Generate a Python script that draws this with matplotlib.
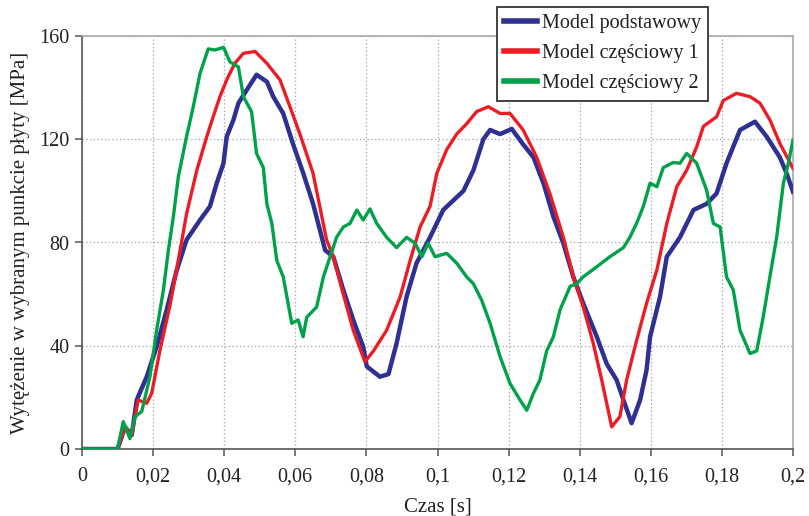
import matplotlib
matplotlib.use("Agg")
import matplotlib.pyplot as plt
from matplotlib.ticker import FuncFormatter

plt.rcParams['font.family'] = ['Liberation Serif', 'DejaVu Serif']

# Model podstawowy (blue)
t_blue = [0, 0.010, 0.0121, 0.014, 0.0154, 0.0182, 0.021, 0.0238, 0.0266, 0.0294, 0.0332,
          0.036, 0.0379, 0.0398, 0.0407, 0.0426, 0.044, 0.0463, 0.0491, 0.052, 0.0538,
          0.0566, 0.0594, 0.0622, 0.065, 0.0684, 0.0707, 0.0735, 0.0763, 0.0791, 0.0801,
          0.0838, 0.0862, 0.0885, 0.0913, 0.0941, 0.0979, 0.1016, 0.1073, 0.1101, 0.1129,
          0.1148, 0.1176, 0.1209, 0.1241, 0.127, 0.1298, 0.1326, 0.1354, 0.1382, 0.141,
          0.1448, 0.1476, 0.1504, 0.1523, 0.1546, 0.157, 0.1588, 0.1598, 0.1626, 0.1645,
          0.1682, 0.172, 0.1757, 0.1785, 0.1813, 0.1851, 0.1893, 0.1926, 0.1963, 0.1982, 0.2]
v_blue = [0, 0, 8.5, 5.4, 19, 28, 39.6, 53.8, 69, 81, 88.7,
          94, 103, 110.7, 121, 127.5, 134, 139, 145, 142.3, 136.5,
          130, 118, 107, 95, 77, 74.5, 61.6, 50, 39.6, 32,
          28, 29, 41, 59, 72, 82, 92.6, 100, 108, 120,
          123.6, 122, 124, 118, 113, 103, 90, 79.7, 66.7, 56.4,
          43.5, 33, 26.7, 19, 10, 19, 30.6, 43.5, 59, 74.5,
          82, 92.6, 95, 99, 110.7, 123.6, 126.8, 121, 113, 106.8, 99.7]

# Model częściowy 1 (red)
t_red = [0, 0.010, 0.0121, 0.014, 0.0158, 0.0182, 0.0196, 0.0219, 0.0248, 0.0276, 0.0294,
         0.0323, 0.0351, 0.0369, 0.0388, 0.0407, 0.043, 0.0454, 0.0487, 0.052, 0.0557,
         0.0585, 0.0613, 0.065, 0.0688, 0.0707, 0.0735, 0.0763, 0.0796, 0.082, 0.0857,
         0.0895, 0.0923, 0.0951, 0.0979, 0.0998, 0.1026, 0.1054, 0.1082, 0.111, 0.1143,
         0.1176, 0.1204, 0.1241, 0.1279, 0.1316, 0.1354, 0.1382, 0.141, 0.1438, 0.1462,
         0.149, 0.1513, 0.1532, 0.156, 0.1588, 0.1617, 0.1645, 0.1673, 0.1701, 0.1729,
         0.1748, 0.1785, 0.1804, 0.1841, 0.1879, 0.1907, 0.1935, 0.1963, 0.2]
v_red = [0, 0, 8.5, 5.4, 19, 17.7, 21.6, 38, 56, 77, 91,
         108, 121, 128.7, 136.5, 143, 149.4, 153.3, 154, 149.4, 143,
         132.6, 122, 106.8, 81, 74.5, 60, 46, 33.8, 38, 46,
         59, 73, 86, 94, 106.8, 116, 122, 126, 130.7, 132.6,
         130, 130, 123.6, 113, 99, 82, 66.7, 55, 41, 26.7,
         8.6, 12.5, 26.7, 42, 56.4, 69.3, 87.4, 101.6, 108, 117,
         125, 128.7, 135, 137.8, 136.5, 134, 127.5, 118.4, 108.7]

# Model częściowy 2 (green)
t_green = [0, 0.010, 0.0116, 0.0135, 0.0149, 0.0168, 0.0191, 0.021, 0.0229, 0.0243, 0.0257,
           0.0271, 0.0294, 0.0313, 0.0332, 0.0355, 0.0374, 0.0398, 0.0416, 0.044, 0.0454,
           0.0477, 0.0491, 0.051, 0.052, 0.0534, 0.0548, 0.0566, 0.059, 0.0608, 0.0622,
           0.0632, 0.066, 0.0679, 0.0698, 0.0716, 0.0735, 0.0754, 0.0773, 0.0791, 0.081,
           0.0829, 0.0857, 0.0885, 0.0913, 0.0937, 0.0956, 0.0974, 0.0993, 0.1026, 0.1054,
           0.1082, 0.1101, 0.1124, 0.1148, 0.1176, 0.1204, 0.1232, 0.1251, 0.127, 0.1288,
           0.1307, 0.1326, 0.1345, 0.1373, 0.1391, 0.141, 0.1448, 0.1485, 0.1523, 0.1541,
           0.156, 0.1579, 0.1598, 0.1617, 0.1635, 0.1663, 0.1682, 0.1701, 0.1729, 0.1757,
           0.1776, 0.1795, 0.1813, 0.1832, 0.1851, 0.1879, 0.1898, 0.1916, 0.1935, 0.1954,
           0.1973, 0.1987, 0.2]
v_green = [0, 0, 10.6, 4, 12.5, 14.5, 28, 46, 61.6, 77, 90,
           105.5, 121, 132.6, 145.5, 155, 154.6, 155.6, 150, 148, 136.5,
           130.7, 114.5, 109, 95, 87.4, 73, 66.7, 48.7, 50, 43.5,
           51, 55, 66.7, 74.5, 82, 86, 87.4, 92.6, 88.7, 93,
           87.4, 82, 78, 82, 79.7, 74.5, 79.7, 74.5, 75.8, 72,
           66.7, 64, 57.7, 48.7, 35.8, 25.4, 19, 15, 21.6, 26.7,
           38, 43.5, 54, 63, 64, 66.7, 70.6, 74.5, 78, 82,
           87.4, 94, 103, 101.6, 109, 111, 110.7, 114.5, 110.7, 100.3,
           87.4, 86, 66.7, 61.6, 46, 37, 38, 51, 66.7, 82,
           103, 110.7, 119.7]

labels = ["Model podstawowy", "Model częściowy 1", "Model częściowy 2"]
x_ticks = [0, 0.02, 0.04, 0.06, 0.08, 0.1, 0.12, 0.14, 0.16, 0.18, 0.2]
y_ticks = [0, 40, 80, 120, 160]

fig = plt.figure(figsize=(8.09, 5.16), dpi=100)
ax = fig.add_axes([82/809, 67/516, (793-82)/809, (449-36)/516])

l1, = ax.plot(t_blue, v_blue, color='#2e3192', lw=3.2, zorder=3)
l2, = ax.plot(t_red, v_red, color='#ed1c24', lw=2.4, zorder=4)
l3, = ax.plot(t_green, v_green, color='#00a14b', lw=2.4, zorder=5)

ax.set_xlim(0, 0.2)
ax.set_ylim(0, 160)
ax.set_xticks(x_ticks)
ax.set_yticks(y_ticks)

def fmt(v, pos):
    s = ('%.2f' % v).rstrip('0').rstrip('.')
    return s.replace('.', ',')

ax.xaxis.set_major_formatter(FuncFormatter(fmt))
ax.grid(True, color='#a0a0a0', linestyle=(0, (1, 2)), linewidth=0.9)
ax.set_axisbelow(True)
for side in ['left', 'bottom']:
    ax.spines[side].set_color('#555555')
    ax.spines[side].set_linewidth(1.2)
for side in ['top', 'right']:
    ax.spines[side].set_color('#aaaaaa')
    ax.spines[side].set_linewidth(1.2)
ax.tick_params(direction='out', length=5, width=1.1, color='#555555',
               labelsize=14.5, colors='#222222')
ax.tick_params(axis='x', pad=8)
ax.tick_params(axis='y', pad=4)

ax.set_xlabel("Czas [s]", fontsize=15, color='#222222', labelpad=8)
ax.set_ylabel("Wytężenie w wybranym punkcie płyty [MPa]", fontsize=15,
              color='#222222', labelpad=7)

leg = fig.legend([l1, l2, l3], labels, loc='upper left',
                 bbox_to_anchor=(497/809, 1 - 7/516), fontsize=14.5,
                 frameon=True, fancybox=False, edgecolor='#222222',
                 framealpha=1, handlelength=1.65, handletextpad=0.25,
                 borderpad=0.35, labelspacing=0.55, borderaxespad=0)
leg.get_frame().set_linewidth(1.2)
for h in leg.legend_handles:
    h.set_linewidth(4)
for t in leg.get_texts():
    t.set_color('#222222')

fig.savefig("out.png", dpi=100)
